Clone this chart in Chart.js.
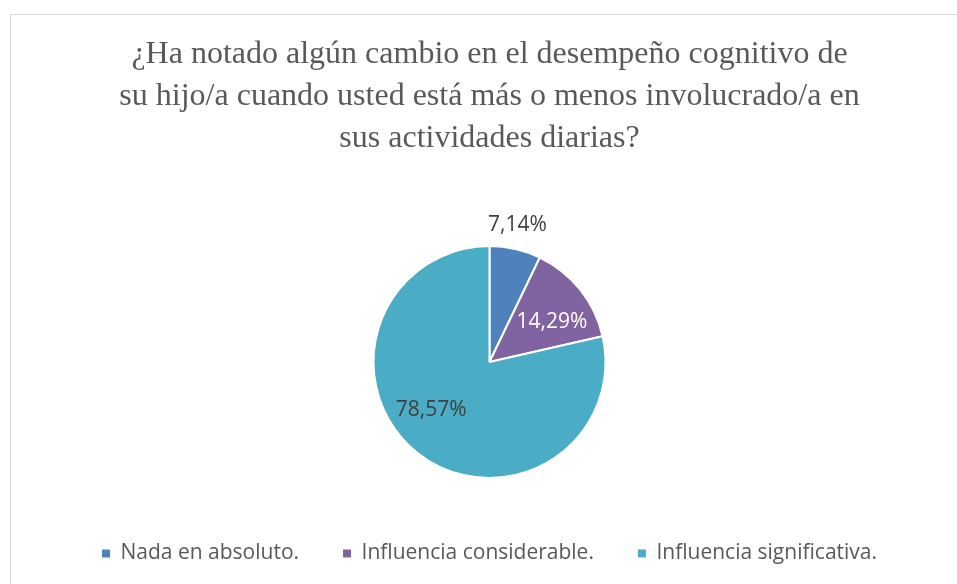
<!DOCTYPE html>
<html>
<head>
<meta charset="utf-8">
<script src="https://cdn.jsdelivr.net/npm/chart.js@4"></script>
<style>
  html, body { margin: 0; padding: 0; background: #fff; overflow: hidden; }
  #marco { position: absolute; left: 10px; top: 14px; width: 1200px; height: 900px; border: 1px solid #d9d9d9; }
  #caja { position: absolute; left: 0; top: 0; width: 957px; height: 584px; }
</style>
</head>
<body>
<div id="marco"></div>
<div id="caja"><canvas id="grafico"></canvas></div>
<script>
let categorias = ["Nada en absoluto.", "Influencia considerable.", "Influencia significativa."];
let porcentajes = [7.14, 14.29, 78.57];
let etiquetas = ["7,14%", "14,29%", "78,57%"];
let colores = ["#4f81bd", "#8064a2", "#4bacc6"];
let titulo = [
  "¿Ha notado algún cambio en el desempeño cognitivo de",
  "su hijo/a cuando usted está más o menos involucrado/a en",
  "sus actividades diarias?"
];

// donde va cada etiqueta: fraccion del radio, giro extra (grados), color
let posEtiquetas = [
  { r: 1.205, giro: -1.3, color: "#404040" },
  { r: 0.64, giro: 5.8, color: "#ffffff" },
  { r: 0.65, giro: 12, color: "#404040" }
];

// ETIQUETAS DE DATOS
const pluginEtiquetas = {
  id: "etiquetas",
  afterDatasetsDraw(chart) {
    let ctx = chart.ctx;
    let meta = chart.getDatasetMeta(0);
    ctx.save();
    ctx.font = "21px 'Open Sans'";
    ctx.textAlign = "center";
    ctx.textBaseline = "middle";
    meta.data.forEach(function (arco, i) {
      let p = posEtiquetas[i];
      let ang = (arco.startAngle + arco.endAngle) / 2 + p.giro * Math.PI / 180;
      let r = arco.outerRadius * p.r;
      ctx.fillStyle = p.color;
      ctx.fillText(etiquetas[i], arco.x + Math.cos(ang) * r, arco.y + Math.sin(ang) * r);
    });
    ctx.restore();
  }
};

let ctx = document.getElementById("grafico").getContext("2d");

new Chart(ctx, {
  type: "pie",
  data: {
    labels: categorias,
    datasets: [{
      data: porcentajes,
      backgroundColor: colores,
      borderColor: "#ffffff",
      borderWidth: 2,
      hoverOffset: 0,
      radius: 116
    }]
  },
  options: {
    responsive: true,
    maintainAspectRatio: false,
    animation: false,
    layout: { padding: { left: 22, bottom: 19 } },
    plugins: {
      tooltip: { enabled: false },
      title: {
        display: true,
        text: titulo,
        color: "#595959",
        font: { family: "'Liberation Serif'", size: 32, weight: "normal", lineHeight: 1.3125 },
        padding: { top: 34, bottom: 65 }
      },
      legend: {
        position: "bottom",
        maxHeight: 66,
        labels: {
          color: "#595959",
          font: { family: "'Open Sans'", size: 21 },
          boxWidth: 8,
          boxHeight: 8,
          padding: 44,
          generateLabels(chart) {
            let items = Chart.overrides.pie.plugins.legend.labels.generateLabels(chart);
            items.forEach(function (it) {
              it.lineWidth = 0;
              it.strokeStyle = it.fillStyle;
            });
            return items;
          }
        }
      }
    }
  },
  plugins: [pluginEtiquetas]
});
</script>
</body>
</html>
